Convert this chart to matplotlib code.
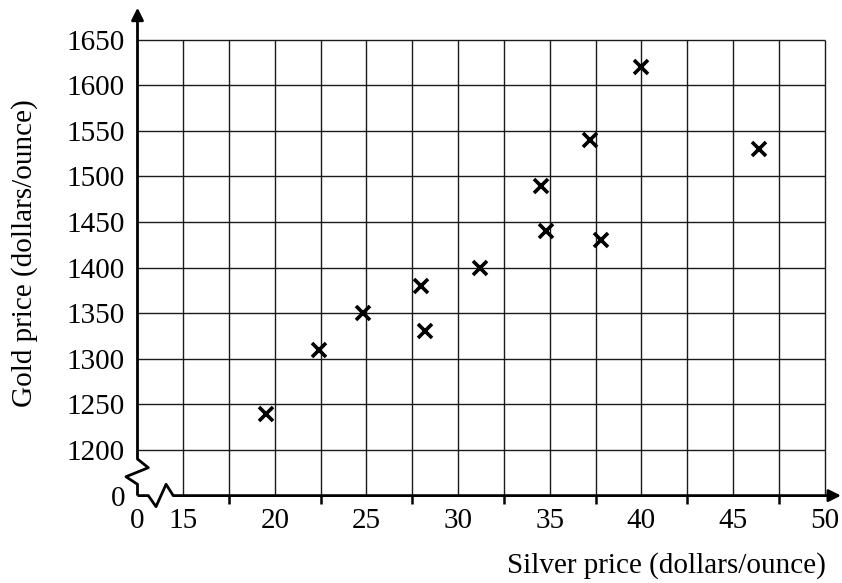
import matplotlib
matplotlib.use('Agg')
import matplotlib.pyplot as plt
import numpy as np

# silver price (dollars/ounce) vs gold price (dollars/ounce)
silver = [19.5, 22.4, 24.8, 28.0, 28.2, 31.2, 34.5, 34.8, 37.2, 37.8, 40.0, 46.4]
gold = [1240, 1310, 1350, 1380, 1330, 1400, 1490, 1440, 1540, 1430, 1620, 1530]

x_ticks = [15, 20, 25, 30, 35, 40, 45, 50]
y_ticks = [1200, 1250, 1300, 1350, 1400, 1450, 1500, 1550, 1600, 1650]

# axis break: the "0" of each axis sits one grid cell before the first real value
X0 = 12.5   # position standing in for silver = 0
Y0 = 1150   # position standing in for gold = 0
XMAX, YMAX = 50, 1650

plt.rcParams['font.family'] = ['Liberation Serif', 'DejaVu Serif']

fig = plt.figure(figsize=(8.42, 5.83), dpi=100)
ax = fig.add_axes([0.1633, 0.1499, 0.8355, 0.8369])
ax.set_xlim(X0, 50.9)
ax.set_ylim(Y0, 1685)
for s in ax.spines.values():
    s.set_visible(False)

# grid (stops at 50 / 1650)
gx = np.arange(15, XMAX + 0.1, 2.5)
ax.vlines(gx, Y0, YMAX, colors='#1a1a1a', lw=1.0, zorder=1)
ax.hlines(y_ticks, X0, XMAX, colors='#1a1a1a', lw=1.0, zorder=1)

# axes with arrows
akw = dict(color='black', lw=2.0, solid_capstyle='butt', clip_on=False, zorder=3)
ax.annotate('', xy=(50.9, Y0), xytext=(14.45, Y0),
            arrowprops=dict(arrowstyle='-|>', lw=2.0, color='black',
                            mutation_scale=18, shrinkA=0, shrinkB=0), annotation_clip=False)
ax.annotate('', xy=(X0, 1685), xytext=(X0, 1190.1),
            arrowprops=dict(arrowstyle='-|>', lw=2.0, color='black',
                            mutation_scale=18, shrinkA=0, shrinkB=0), annotation_clip=False)
# zigzag breaks
ax.plot([X0, 13.09, 13.51, 14.06, 14.45], [Y0, Y0, 1137.9, 1162.4, Y0], **akw)
ax.plot([X0, 13.09, 11.87, X0, X0], [1190.1, 1180.6, 1170.7, 1162.4, Y0], **akw)

# data
ax.plot(silver, gold, linestyle='none', marker='x', markersize=10.5,
        markeredgewidth=2.6, color='black', zorder=4, clip_on=False)

# tick labels (no marks) + tick marks (minor)
ax.set_xticks([X0] + x_ticks, ['0'] + [str(v) for v in x_ticks])
ax.set_yticks([Y0] + y_ticks, ['0'] + [str(v) for v in y_ticks])
ax.tick_params(which='major', length=0, labelsize=21, pad=9)
ax.tick_params(axis='y', which='major', pad=9)
ax.set_xticks([X0] + list(np.arange(17.5, XMAX + 0.1, 2.5)), minor=True)
ax.set_yticks([Y0] + y_ticks, minor=True)
ax.tick_params(which='minor', length=6, width=1.8, direction='out', color='black')

fig.text(826 / 842, 1 - 573 / 583, 'Silver price (dollars/ounce)', ha='right',
         va='baseline', fontsize=21)
fig.text(25 / 842, 1 - 253 / 583, 'Gold price (dollars/ounce)', rotation=90,
         ha='center', va='center', fontsize=21)

fig.savefig('out.png', dpi=100)
